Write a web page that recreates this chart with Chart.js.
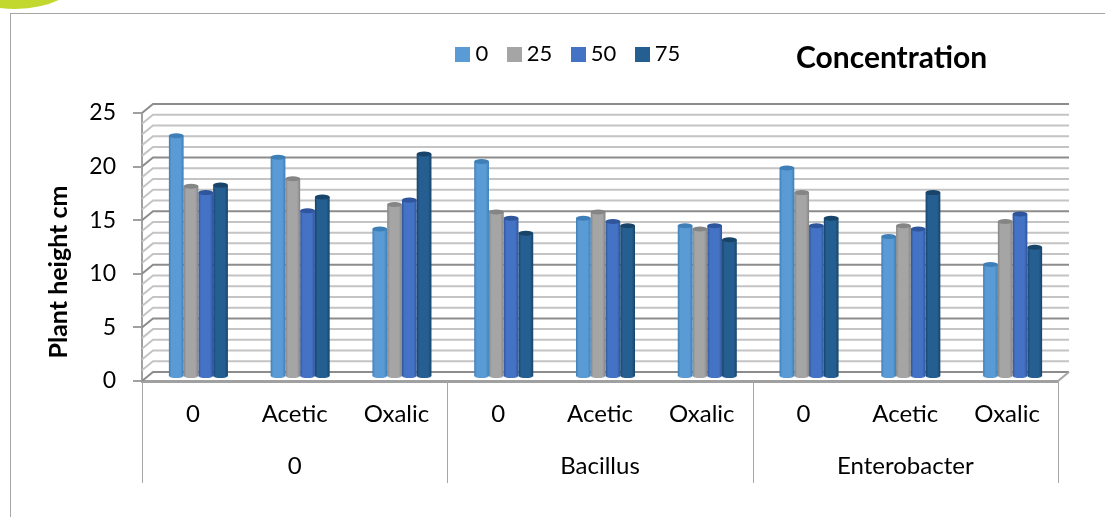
<!DOCTYPE html>
<html>
<head>
<meta charset="utf-8">
<title>Plant height</title>
<script src="https://cdn.jsdelivr.net/npm/chart.js@4"></script>
<style>
    html, body { margin: 0; padding: 0; background: #fff; overflow: hidden; }
    #wrap { position: relative; width: 1105px; height: 517px; overflow: hidden; }
    #frame { position: absolute; left: 10px; top: 13px; width: 1200px; height: 600px; border: 1px solid #a6a6a6; }
    #blob { position: absolute; left: -50px; top: -60px; width: 130px; height: 69px; border-radius: 50%; background: #c3d82e; }
    canvas { position: absolute; left: 0; top: 0; }
</style>
</head>
<body>
<div id="wrap">
    <div id="blob"></div>
    <div id="frame"></div>
    <canvas id="heightChart" width="1105" height="517"></canvas>
</div>
<script>
const categories = ["0", "Acetic", "Oxalic", "0", "Acetic", "Oxalic", "0", "Acetic", "Oxalic"];
const groups = ["0", "Bacillus", "Enterobacter"];
const conc0 = [22.5, 20.5, 13.8, 20.1, 14.8, 14.1, 19.5, 13.1, 10.5];
const conc25 = [17.8, 18.5, 16.1, 15.4, 15.4, 13.8, 17.2, 14.1, 14.5];
const conc50 = [17.2, 15.5, 16.5, 14.8, 14.5, 14.1, 14.1, 13.8, 15.2];
const conc75 = [17.9, 16.8, 20.8, 13.4, 14.1, 12.8, 14.8, 17.2, 12.1];

const FONT = "Lato, Carlito, sans-serif";
const DEPTH_X = 11, DEPTH_Y = 9;   // offset of the back wall
const BAR_DX = 5.5, BAR_DY = 4;    // bars stand a little behind the front edge

// cylinder shading, one gradient per bar
function cylinder(base, dark) {
    return function (ctx) {
        const chart = ctx.chart;
        const x = chart.scales.x;
        if (!x || ctx.dataIndex === undefined) return base;
        const catW = x.width / categories.length;
        const w = catW * 0.58 / 4;
        const left = x.getPixelForValue(ctx.dataIndex) - 2 * w + ctx.datasetIndex * w;
        const g = chart.ctx.createLinearGradient(left, 0, left + w, 0);
        g.addColorStop(0, dark);
        g.addColorStop(0.18, base);
        g.addColorStop(0.78, base);
        g.addColorStop(1, dark);
        return g;
    };
}

// legend swatch, wider than its slot so the label sits close to it
function swatch(color) {
    const box = document.createElement("canvas");
    box.width = 15;
    box.height = 15;
    const c = box.getContext("2d");
    c.fillStyle = color;
    c.fillRect(0, 0, 15, 15);
    return box;
}

const wallPlugin = {
    id: "wall",
    afterLayout(chart) {
        // legend and title share one row in the original
        chart.legend.left = 437;
        chart.legend.top = 19;
        chart.titleBlock.left = 796;
        chart.titleBlock.right = 1000;
        chart.titleBlock.top = 43;
        // axis title sits lower than the middle of the axis
        const y = chart.scales.y;
        if (!y.titleMoved) {
            const drawTitle = y.drawTitle;
            y.drawTitle = function () {
                chart.ctx.save();
                chart.ctx.translate(0, 25);
                drawTitle.call(y);
                chart.ctx.restore();
            };
            y.titleMoved = true;
        }
    },
    beforeDatasetsDraw(chart) {
        const c = chart.ctx, y = chart.scales.y, area = chart.chartArea;
        c.save();
        for (let v = 0; v <= 25; v++) {
            const py = y.getPixelForValue(v);
            const major = v % 5 === 0;
            c.strokeStyle = major ? "#8c8c8c" : "#c4c4c4";
            c.lineWidth = 2;
            c.beginPath();
            c.moveTo(area.left, py);
            c.lineTo(area.left + DEPTH_X, py - DEPTH_Y);
            c.lineTo(area.right + DEPTH_X, py - DEPTH_Y);
            c.stroke();
        }
        // right end of the floor
        const py0 = y.getPixelForValue(0);
        c.strokeStyle = "#a6a6a6";
        c.beginPath();
        c.moveTo(area.right, py0);
        c.lineTo(area.right + DEPTH_X, py0 - DEPTH_Y);
        c.stroke();
        // separators of the group axis
        const x2 = chart.scales.x2;
        const band = x2.width / groups.length;
        c.strokeStyle = "#a6a6a6";
        c.lineWidth = 1;
        for (let i = 0; i <= groups.length; i++) {
            const px = Math.round(x2.left + i * band) + 0.5;
            c.beginPath();
            c.moveTo(px, area.bottom);
            c.lineTo(px, x2.bottom);
            c.stroke();
        }
        c.restore();
        c.save();
        c.translate(BAR_DX, -BAR_DY);
    },
    afterDatasetsDraw(chart) {
        const c = chart.ctx;
        chart.data.datasets.forEach(function (ds, i) {
            chart.getDatasetMeta(i).data.forEach(function (bar) {
                const r = bar.width / 2;
                c.fillStyle = ds.capColor;
                c.beginPath();
                c.ellipse(bar.x, bar.y, r, 2.5, 0, 0, Math.PI * 2);
                c.fill();
                c.fillStyle = ds.baseColor;
                c.beginPath();
                c.ellipse(bar.x, bar.base, r, 2, 0, 0, Math.PI);
                c.fill();
            });
        });
        c.restore();
    }
};

function makeSet(label, values, base, dark) {
    return {
        label: label,
        data: values,
        backgroundColor: cylinder(base, dark),
        borderWidth: 0,
        baseColor: base,
        capColor: dark
    };
}

new Chart(document.getElementById("heightChart"), {
    type: "bar",
    data: {
        labels: categories,
        datasets: [
            makeSet("0", conc0, "#5b9bd5", "#3f7fb8"),
            makeSet("25", conc25, "#a5a5a5", "#858585"),
            makeSet("50", conc50, "#4472c4", "#2f559c"),
            makeSet("75", conc75, "#255e91", "#174468")
        ]
    },
    options: {
        responsive: false,
        animation: false,
        categoryPercentage: 0.58,
        barPercentage: 1,
        layout: { padding: { left: 44, right: 47, top: 27, bottom: 34 } },
        plugins: {
            tooltip: { enabled: false },
            title: {
                display: true,
                text: "Concentration",
                align: "start",
                color: "#000",
                padding: 0,
                font: { family: FONT, size: 30, weight: "bold", lineHeight: 1 }
            },
            legend: {
                display: true,
                align: "start",
                labels: {
                    usePointStyle: true,
                    pointStyleWidth: 3.5,
                    boxHeight: 15,
                    color: "#000",
                    padding: 24,
                    font: { family: FONT, size: 22 },
                    generateLabels(chart) {
                        return chart.data.datasets.map(function (ds, i) {
                            return {
                                text: ds.label,
                                fillStyle: ds.baseColor,
                                strokeStyle: ds.baseColor,
                                lineWidth: 0,
                                pointStyle: swatch(ds.baseColor),
                                datasetIndex: i
                            };
                        });
                    }
                }
            }
        },
        scales: {
            x: {
                grid: { display: false },
                border: { color: "#a0a0a0", width: 3 },
                ticks: { color: "#000", padding: 11, autoSkip: false, maxRotation: 0, font: { family: FONT, size: 24 } },
                afterFit(scale) { scale.height = 52; }
            },
            x2: {
                type: "category",
                labels: groups,
                position: "bottom",
                grid: { display: false },
                border: { display: false },
                ticks: { color: "#000", padding: 11, autoSkip: false, maxRotation: 0, font: { family: FONT, size: 24 } },
                afterFit(scale) { scale.height = 50; }
            },
            y: {
                min: 0,
                max: 25,
                ticks: { stepSize: 5, color: "#000", padding: 17, font: { family: FONT, size: 23 } },
                grid: { drawOnChartArea: false, drawTicks: true, tickLength: 9, color: "#a0a0a0", lineWidth: 2 },
                border: { color: "#a0a0a0", width: 2 },
                title: {
                    display: true,
                    text: "Plant height cm",
                    color: "#000",
                    padding: 0,
                    font: { family: FONT, size: 25, weight: "bold" }
                },
                afterFit(scale) { scale.width = 98; }
            }
        }
    },
    plugins: [wallPlugin]
});
</script>
</body>
</html>
